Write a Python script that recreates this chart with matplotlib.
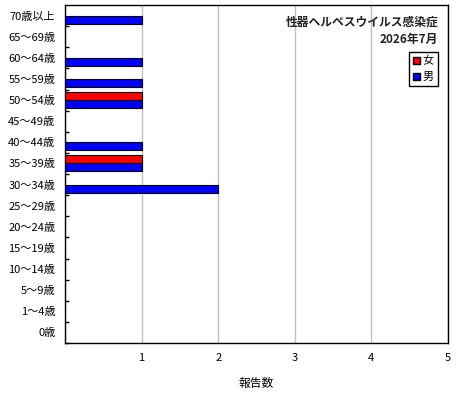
import numpy as np
import matplotlib
matplotlib.use('Agg')
from matplotlib import pyplot as plt
from matplotlib.patches import Patch

plt.rcParams['font.family'] = ['Noto Sans CJK JP', 'DejaVu Sans']

# age groups, bottom to top
ages = ['0歳', '1～4歳', '5～9歳', '10～14歳', '15～19歳', '20～24歳', '25～29歳',
        '30～34歳', '35～39歳', '40～44歳', '45～49歳', '50～54歳', '55～59歳',
        '60～64歳', '65～69歳', '70歳以上']
female = [0, 0, 0, 0, 0, 0, 0, 0, 1, 0, 0, 1, 0, 0, 0, 0]
male = [0, 0, 0, 0, 0, 0, 0, 2, 1, 1, 0, 1, 1, 1, 0, 1]
x_ticks = [1, 2, 3, 4, 5]

fig = plt.figure(figsize=(4.6, 4.0), dpi=100)
ax = fig.add_axes([65 / 460, 57 / 400, 383 / 460, 338 / 400])

y = np.arange(len(ages))
h = 0.38
ax.barh(y + h / 2, female, height=h, color='#ff0000', edgecolor='black', linewidth=0.8, zorder=3)
ax.barh(y - h / 2, male, height=h, color='#0000ff', edgecolor='black', linewidth=0.8, zorder=3)

ax.set_xlim(0, 5)
ax.set_ylim(-0.5, len(ages) - 0.5)
ax.set_xticks(x_ticks)
ax.set_xticklabels([str(v) for v in x_ticks], fontsize=8)
ax.tick_params(axis='x', length=0, pad=7)
ax.set_yticks(y)
ax.set_yticklabels(ages, fontsize=8)
ax.tick_params(axis='y', length=0, pad=7)
ax.set_yticks(np.arange(len(ages)) - 0.5, minor=True)
ax.tick_params(axis='y', which='minor', direction='in', length=3, width=1, color='black')
ax.xaxis.grid(True, color='#c0c0c0', linewidth=1, zorder=0)
for s in ax.spines.values():
    s.set_color('black')
    s.set_linewidth(1)

ax.set_xlabel('報告数', fontsize=8.5, labelpad=10)

ax.text(0.975, 0.968, '性器ヘルペスウイルス感染症', transform=ax.transAxes, ha='right', va='top',
        fontsize=8.5, fontweight='bold', color='#222222')
ax.text(0.975, 0.918, '2026年7月', transform=ax.transAxes, ha='right', va='top',
        fontsize=8.5, fontweight='bold', color='#222222')

handles = [Patch(facecolor='#ff0000', edgecolor='black'), Patch(facecolor='#0000ff', edgecolor='black')]
leg = ax.legend(handles, ['女', '男'], loc='upper right', bbox_to_anchor=(0.973, 0.862),
                fontsize=8, handlelength=0.6, handleheight=0.6, handletextpad=0.2,
                borderpad=0.4, labelspacing=0.5, fancybox=False, framealpha=1,
                edgecolor='black', borderaxespad=0)
leg.get_frame().set_linewidth(1)

fig.savefig('out.png', dpi=100)
